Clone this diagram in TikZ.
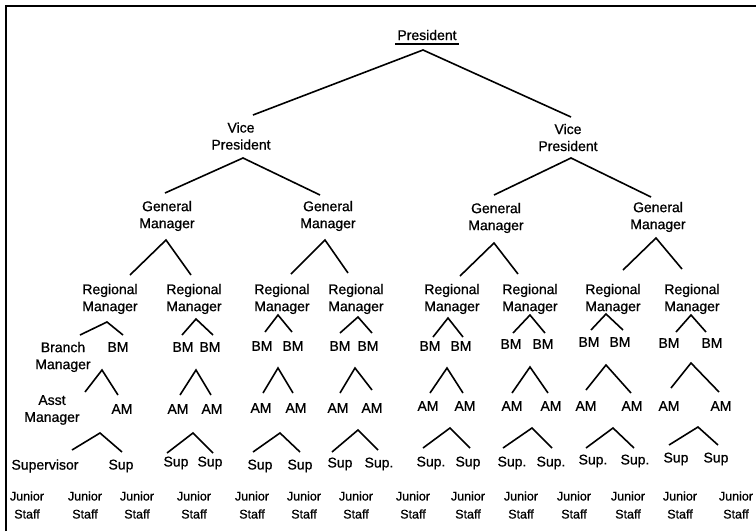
\documentclass[tikz,border=0pt]{standalone}
\usepackage{fontspec}
\setmainfont{Liberation Sans}[FakeBold=0.8]
\newcommand{\orgtri}[4]{%
  \coordinate (#1) at (#2);
  \coordinate (#1l) at (#3);
  \coordinate (#1r) at (#4);
  \draw[link] (#1l) -- (#1) -- (#1r);}
\begin{document}
\begin{tikzpicture}[x=1pt,y=-1pt,
  lbl/.style={inner sep=0pt, align=center, font=\fontsize{14}{17}\selectfont},
  junior/.style={lbl, font=\fontsize{12.5}{18}\selectfont},
  link/.style={line width=1.6pt, line join=miter},
  frame/.style={line width=2.2pt}]
\useasboundingbox (0,0) rectangle (756,531);
% frame
\draw[frame] (6,531) -- (6,6) -- (756,6);

% top levels
\node[lbl] (pres) at (427,35) {President};
\draw[line width=2.2pt] ([xshift=-2pt,yshift=-4pt]pres.south west) -- ([xshift=2pt,yshift=-4pt]pres.south east);
\node[lbl] (vp1) at (241,136) {Vice\\President};
\node[lbl] (vp2) at (568,137.5) {Vice\\President};
\node[lbl] (gm1) at (167,216) {General\\Manager};
\node[lbl] (gm2) at (328,216) {General\\Manager};
\node[lbl] (gm3) at (496,218) {General\\Manager};
\node[lbl] (gm4) at (658,217) {General\\Manager};

\orgtri{tp}{423,50}{253,115}{571,117}
\orgtri{tv1}{243,158}{165,193}{320,195}
\orgtri{tv2}{571,158}{494,195}{651,197}
\orgtri{tg1}{166,240}{130,275}{191,275}
\orgtri{tg2}{325,240}{291,274}{348,273}
\orgtri{tg3}{494,243}{460,276}{518,274}
\orgtri{tg4}{656,238}{623,270}{682,269}

% regional managers
\foreach \n/\x in {1/110,2/194,3/282,4/356,5/452,6/530,7/613,8/692}
  \node[lbl] (rm\n) at (\x,299) {Regional\\Manager};

\orgtri{tr1}{107,322}{80,335}{123,335}
\orgtri{tr2}{196,319}{182,335}{213,335}
\orgtri{tr3}{278,315}{265,332}{292,332}
\orgtri{tr4}{358,317}{340,333}{372,333}
\orgtri{tr5}{448,318}{433,337}{463,337}
\orgtri{tr6}{530,315}{513,333}{545,333}
\orgtri{tr7}{606,314}{591,330}{623,330}
\orgtri{tr8}{691,315}{676,332}{706,332}

% branch managers
\node[lbl] (bm1a) at (63,357) {Branch\\Manager};
\node[lbl] (bm1b) at (118,347) {BM};
\foreach \n/\xa/\xb/\y in {2/183/210/347,3/262/293/346,4/340/368/346,5/430/461/346,6/511/543/344,7/589/620/342,8/669/712/343}{
  \node[lbl] (bm\n a) at (\xa,\y) {BM};
  \node[lbl] (bm\n b) at (\xb,\y) {BM};
}

\orgtri{ta1}{102,370}{85,392}{118,395}
\orgtri{ta2}{196,370}{180,395}{211,395}
\orgtri{ta3}{278,368}{263,393}{293,393}
\orgtri{ta4}{355,368}{340,393}{372,390}
\orgtri{ta5}{447,368}{430,393}{463,393}
\orgtri{ta6}{530,367}{512,393}{548,393}
\orgtri{ta7}{606,365}{586,390}{631,393}
\orgtri{ta8}{691,363}{671,388}{719,392}

% assistant managers
\node[lbl] (am1a) at (52,410) {Asst\\Manager};
\node[lbl] (am1b) at (122,409) {AM};
\foreach \n/\xa/\xb/\y in {2/178/212/409,3/261/296/408,4/338/372/408,5/428/465/406,6/512/551/406,7/586/632/406,8/669/721/406}{
  \node[lbl] (am\n a) at (\xa,\y) {AM};
  \node[lbl] (am\n b) at (\xb,\y) {AM};
}

\orgtri{ts1}{100,433}{72,450}{122,452}
\orgtri{ts2}{193,433}{167,453}{213,453}
\orgtri{ts3}{280,433}{253,452}{300,452}
\orgtri{ts4}{358,430}{332,452}{378,450}
\orgtri{ts5}{450,428}{423,448}{470,448}
\orgtri{ts6}{532,428}{503,448}{552,448}
\orgtri{ts7}{613,428}{586,448}{634,448}
\orgtri{ts8}{698,427}{669,445}{718,445}

% supervisors
\node[lbl] (sp1a) at (45,466) {Supervisor};
\node[lbl] (sp1b) at (121,466) {Sup};
\node[lbl] (sp2a) at (176,463) {Sup};
\node[lbl] (sp2b) at (210,463) {Sup};
\node[lbl] (sp3a) at (260,466) {Sup};
\node[lbl] (sp3b) at (300,466) {Sup};
\node[lbl] (sp4a) at (340,464) {Sup};
\node[lbl] (sp4b) at (379,464) {Sup.};
\node[lbl] (sp5a) at (431,463) {Sup.};
\node[lbl] (sp5b) at (468,463) {Sup};
\node[lbl] (sp6a) at (512,463) {Sup.};
\node[lbl] (sp6b) at (551,463) {Sup.};
\node[lbl] (sp7a) at (593,461) {Sup.};
\node[lbl] (sp7b) at (635,461) {Sup.};
\node[lbl] (sp8a) at (676,459) {Sup};
\node[lbl] (sp8b) at (716,459) {Sup};

% junior staff
\foreach \n/\x in {1/27,2/85,3/137,4/194,5/252,6/304,7/356,8/413,9/468,10/521,11/574,12/628,13/680,14/736}
  \node[junior] (js\n) at (\x,505) {Junior\\Staff};
\end{tikzpicture}
\end{document}
